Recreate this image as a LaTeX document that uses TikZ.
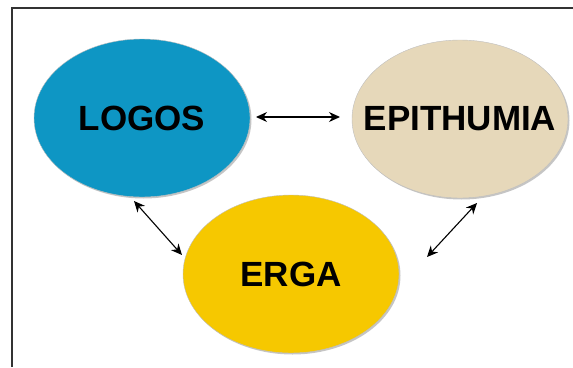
\documentclass[tikz,border=0pt]{standalone}
\usepackage{fontspec}
\setmainfont{Liberation Sans}
\usetikzlibrary{arrows.meta,shapes.geometric,shadows}
\definecolor{logosblue}{RGB}{14,150,196}
\definecolor{epitan}{RGB}{230,216,186}
\definecolor{ergayellow}{RGB}{246,200,0}
\tikzset{
  oval/.style={ellipse, minimum width=216pt, minimum height=158pt, inner sep=0pt,
    font=\fontsize{35}{35}\selectfont\bfseries,
    draw=black!25, line width=0.4pt,
    drop shadow={shadow xshift=1.5pt, shadow yshift=-1.5pt, fill=black!45}},
  link/.style={{Stealth[length=11pt,width=10pt]}-{Stealth[length=11pt,width=10pt]}, line width=1.1pt}
}
\begin{document}
\begin{tikzpicture}[x=1pt,y=-1pt]
\useasboundingbox (0,0) rectangle (573,367);
\draw[line width=1.5pt, black!80] (12,367) -- (12,8) -- (573,8);
\node[oval, fill=logosblue] (logos) at (142,118) {\makebox[0pt]{LOGOS}};
\node[oval, fill=epitan] (epi) at (460,119) {\makebox[0pt]{EPITHUMIA}};
\node[oval, fill=ergayellow] (erga) at (291,274) {\makebox[0pt]{ERGA}};
\coordinate (h1) at (256,117);
\coordinate (h2) at (340,117);
\coordinate (l1) at (134,201);
\coordinate (l2) at (182,255);
\coordinate (r1) at (477,203);
\coordinate (r2) at (427,257);
\draw[link] (h1) -- (h2);
\draw[link] (l1) -- (l2);
\draw[link] (r1) -- (r2);
\end{tikzpicture}
\end{document}
